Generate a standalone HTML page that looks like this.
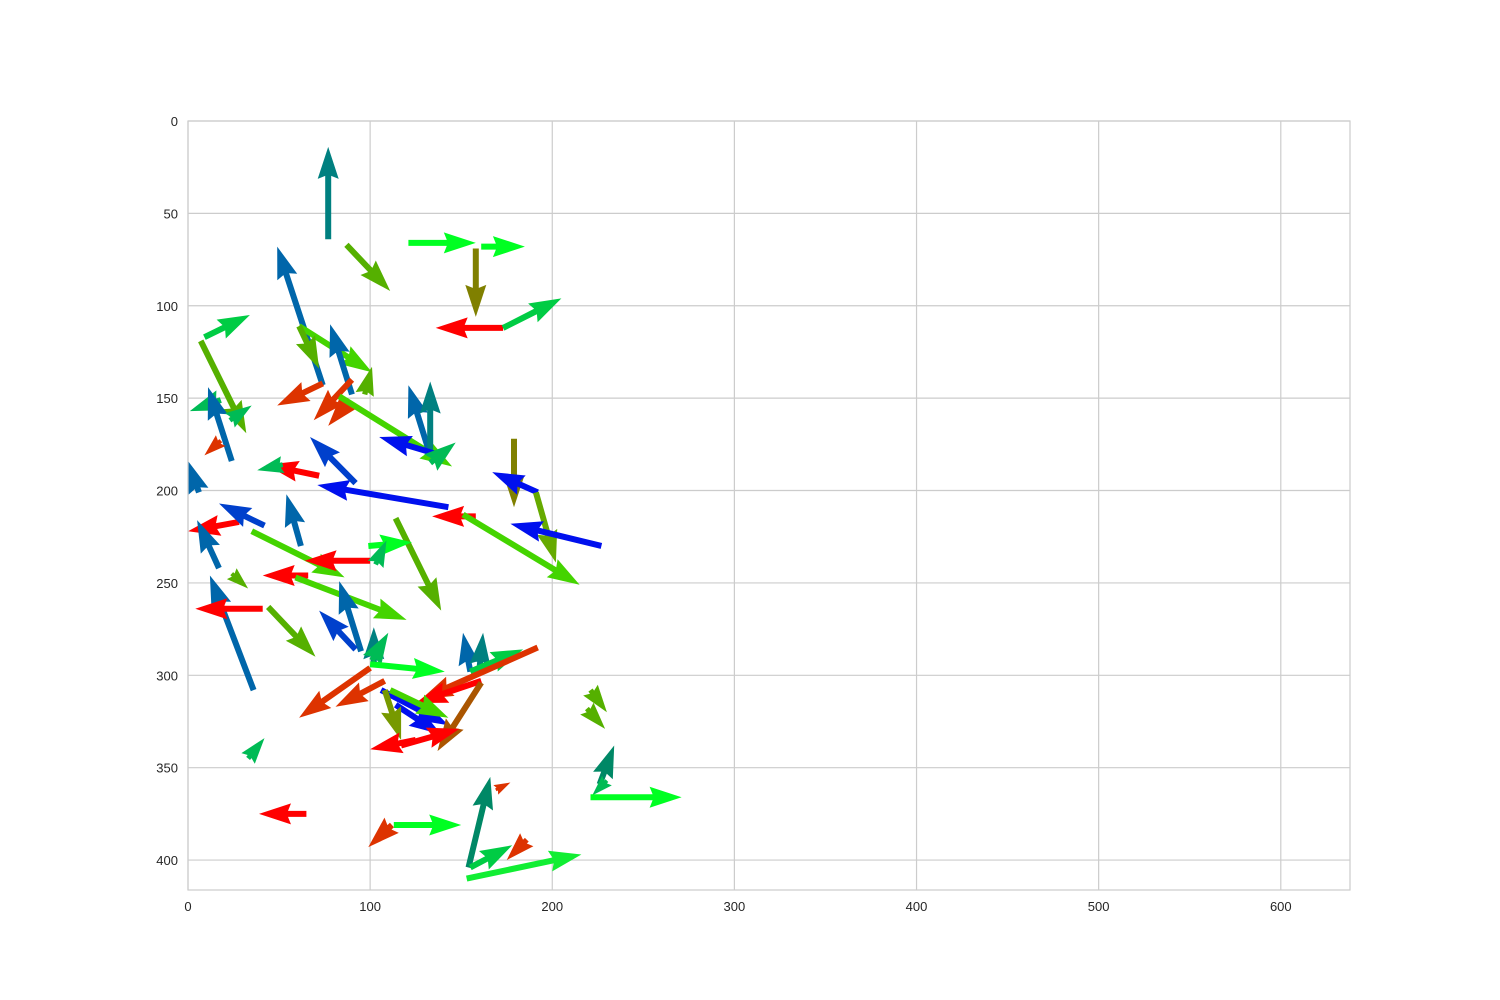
<!DOCTYPE html>
<html><head><meta charset="utf-8"><style>
body{margin:0;background:#fff;}
svg{display:block;font-family:"Liberation Sans","DejaVu Sans",sans-serif;}
</style></head><body>
<svg id="chart" width="1500" height="1000" viewBox="0 0 1500 1000" xmlns="http://www.w3.org/2000/svg">
<rect width="1500" height="1000" fill="#fff"/>
<g id="grid"></g>
<g id="arrows"></g>
<rect x="188" y="121" width="1162" height="769" fill="none" stroke="#cccccc" stroke-width="1.2"/>
<g id="ticks"></g>
</svg>
<script>
const xTicks=[0,100,200,300,400,500,600];
const yTicks=[0,50,100,150,200,250,300,350,400];
const xs=[77,87,121,161,158,173,173,9,74,7,61,61,90,97,74,90,89,18,24,23,83,133,133,139,133,18,179,192,191,143,92,72,52,6,158,151,227,28,42,17,114,62,35,100,99,103,24,66,59,36,41,44,95,92,102,101,100,155,160,155,192,161,100,108,106,114,111,108,161,117,125,221,219,33,226,230,221,65,113,112,154,169,155,186,153];
const ys=[64,67,66,68,69,112,112,117,143,119,111,111,148,148,142,140,151,151,184,162,149,181,181,181,185,173,172,201,201,209,196,192,186,201,214,213,230,217,219,242,215,230,222,238,230,240,245,246,247,308,264,263,287,286,293,292,294,298,297,298,285,303,296,303,308,316,308,308,304,338,335,308,318,345,359,357,366,375,381,381,404,362,404,389,410];
const us=[0,24,37,24,0,-37,32,25,-25,25,40,11,-12,4,-25,-21,-12,-17,-13,12,62,-12,0,-34,14,-9,0,-25,11,-72,-25,-29,-14,-6,-24,64,-50,-28,-25,-12,25,-8,51,-36,24,6,9,-25,61,-24,-37,26,-12,-20,0,9,41,-4,2,29,-64,-36,-39,-27,37,25,32,9,-24,32,-25,9,10,9,8,-8,50,-26,37,-13,12,8,23,-11,63];
const vs=[-50,25,0,0,37,0,-16,-12,-75,50,25,23,-38,-15,12,22,14,6,-40,-8,38,-38,-40,-10,-11,8,37,-11,38,-12,-25,-6,3,-17,0,38,-12,5,-12,-26,50,-28,25,0,-2,-13,8,0,23,-62,0,27,-38,-21,-19,-15,4,-21,-20,-12,28,12,27,14,19,16,15,27,37,-9,5,12,11,-11,-21,8,0,0,0,12,-49,-4,-12,11,-13];
const cs=["teal","g2","lime","lime","olive","red","g3","g3","bt","g2","g4","g2","bt","g2","or","or","or","gb","bt","gb","g4","bt","teal","blue","gb","or","olive","blue","g5","blue","blue2","red","gb","bt","red","g4","blue","red","blue2","bt","g2","bt","g4","red","lime","gb","g2","red","g4","bt","red","g2","bt","blue2","teal","gb","lime","bt","teal","g3","or","red","or","or","blue","blue","g4","og","brown","red","red","g2","g2","gb","tg","gb","lime","red","lime","or","tg","or","g3","or","lime2"];
const palette={teal:"#008080",g2:"#55b000",lime:"#00ff22",olive:"#808000",red:"#ff0000",g3:"#00cc44",gb:"#00bb55",bt:"#0066aa",g4:"#44d400",or:"#dd3300",blue:"#0010ee",blue2:"#0040cc",g5:"#66aa00",og:"#779900",brown:"#aa5500",tg:"#008866",lime2:"#11ee33"};
const X0=188,XS=1162/638,Y0=121,YS=769/416.2;
const sx=v=>X0+v*XS, sy=v=>Y0+v*YS;
const NS="http://www.w3.org/2000/svg";
const grid=document.getElementById('grid'),ticks=document.getElementById('ticks'),arr=document.getElementById('arrows');
xTicks.forEach(t=>{
 const l=document.createElementNS(NS,'line');
 
 
 l.setAttribute('x1',sx(t));l.setAttribute('x2',sx(t));l.setAttribute('y1',121);l.setAttribute('y2',890);
 l.setAttribute('stroke','#cccccc');l.setAttribute('stroke-width','1.2');grid.appendChild(l);
 const tx=document.createElementNS(NS,'text');
 
 
 tx.setAttribute('x',sx(t));tx.setAttribute('y',911);tx.setAttribute('text-anchor','middle');
 tx.setAttribute('font-size','13');tx.setAttribute('fill','#262626');tx.textContent=t;ticks.appendChild(tx);
});
yTicks.forEach(t=>{
 const l=document.createElementNS(NS,'line');
 
 
 l.setAttribute('x1',188);l.setAttribute('x2',1350);l.setAttribute('y1',sy(t));l.setAttribute('y2',sy(t));
 l.setAttribute('stroke','#cccccc');l.setAttribute('stroke-width','1.2');grid.appendChild(l);
 const tx=document.createElementNS(NS,'text');
 
 
 tx.setAttribute('x',178);tx.setAttribute('y',sy(t)+5);tx.setAttribute('text-anchor','end');
 tx.setAttribute('font-size','13');tx.setAttribute('fill','#262626');tx.textContent=t;ticks.appendChild(tx);
});
const W=6,HL=32,HA=29,HW=10.5;
for(let i=0;i<xs.length;i++){
 const x1=sx(xs[i]),y1=sy(ys[i]),x2=sx(xs[i]+us[i]),y2=sy(ys[i]+vs[i]);
 const dx=x2-x1,dy=y2-y1,L=Math.hypot(dx,dy)||1;
 const ux=dx/L,uy=dy/L,px=-uy,py=ux;
 let k=L<HL?L/HL:1;
 const hl=HL*k,ha=HA*k,hw=HW*k,w=W/2*k;
 const bx=x2-ux*ha,by=y2-uy*ha;
 const pts=[
  [x1+px*w,y1+py*w],[bx+px*w,by+py*w],[x2-ux*hl+px*hw,y2-uy*hl+py*hw],[x2,y2],
  [x2-ux*hl-px*hw,y2-uy*hl-py*hw],[bx-px*w,by-py*w],[x1-px*w,y1-py*w]];
 const p=document.createElementNS(NS,'polygon');
 
 
 p.setAttribute('points',pts.map(q=>q[0].toFixed(1)+','+q[1].toFixed(1)).join(' '));
 p.setAttribute('fill',palette[cs[i]]);
 arr.appendChild(p);
}
</script>
</body></html>
